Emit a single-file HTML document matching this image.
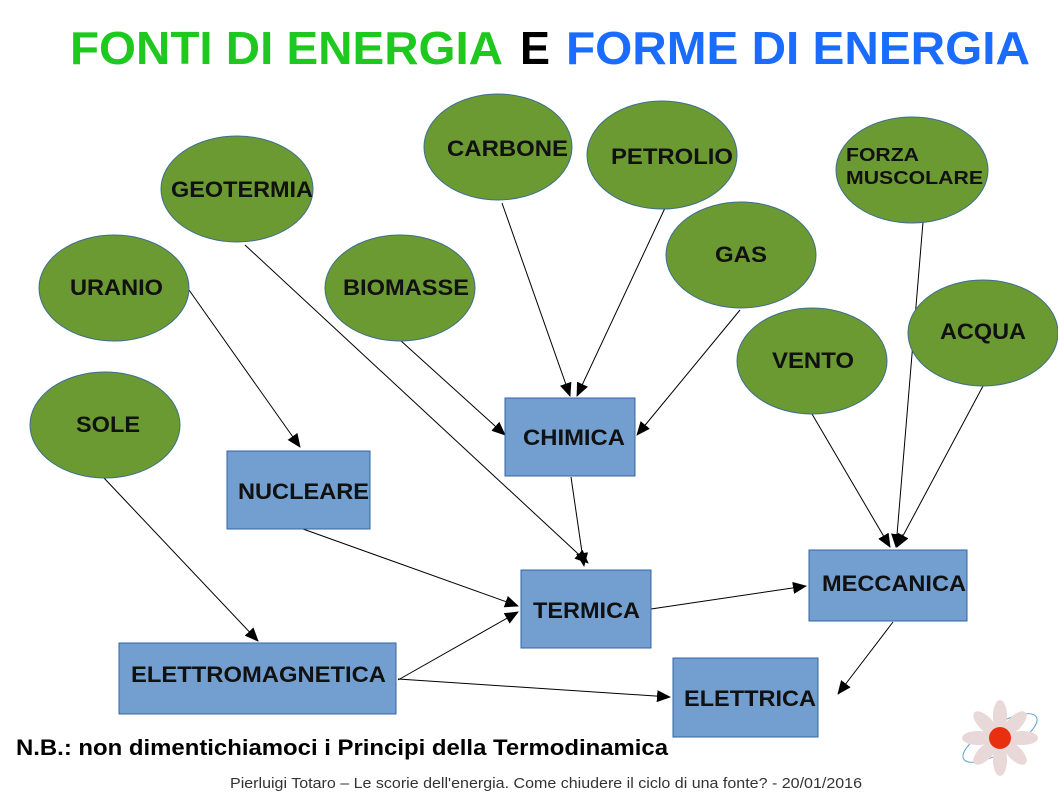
<!DOCTYPE html>
<html><head><meta charset="utf-8"><style>
body{margin:0;background:#fff}
svg{display:block}
text{font-family:"Liberation Sans",sans-serif;font-weight:bold}
</style></head><body>
<svg width="1058" height="794" viewBox="0 0 1058 794" xmlns="http://www.w3.org/2000/svg">
<defs><marker id="a" markerWidth="14" markerHeight="12" refX="13" refY="6" orient="auto" markerUnits="userSpaceOnUse"><path d="M0,0 L14,6 L0,12 z" fill="#000"/></marker></defs>
<g font-size="46">
<text x="70" y="64" fill="#1ec81e" textLength="433" lengthAdjust="spacingAndGlyphs">FONTI DI ENERGIA</text>
<text x="520" y="64" fill="#000" textLength="30" lengthAdjust="spacingAndGlyphs">E</text>
<text x="566" y="64" fill="#1a6cff" textLength="464" lengthAdjust="spacingAndGlyphs">FORME DI ENERGIA</text>
</g>
<g stroke="#000" stroke-width="1" marker-end="url(#a)">
<line x1="189" y1="290" x2="300" y2="447"/>
<line x1="245" y1="245" x2="588" y2="563"/>
<line x1="400" y1="340" x2="505" y2="435"/>
<line x1="502" y1="203" x2="570" y2="396"/>
<line x1="665" y1="208" x2="577" y2="396"/>
<line x1="740" y1="310" x2="637" y2="435"/>
<line x1="571" y1="477" x2="584" y2="566"/>
<line x1="303" y1="529" x2="518" y2="606"/>
<line x1="104" y1="478" x2="258" y2="641"/>
<line x1="398" y1="680" x2="518" y2="612"/>
<line x1="398" y1="679" x2="670" y2="697"/>
<line x1="651" y1="609" x2="806" y2="586"/>
<line x1="812" y1="414" x2="890" y2="547"/>
<line x1="923" y1="222" x2="896" y2="547"/>
<line x1="983" y1="386" x2="897" y2="547"/>
<line x1="893" y1="622" x2="838" y2="694"/>
</g>
<g fill="#6b9a33" stroke="#3c6e8f" stroke-width="1">
<ellipse cx="498" cy="147" rx="74" ry="53"/>
<ellipse cx="662" cy="155" rx="75" ry="54"/>
<ellipse cx="237" cy="189" rx="76" ry="53"/>
<ellipse cx="912" cy="170" rx="76" ry="53"/>
<ellipse cx="741" cy="255" rx="75" ry="53"/>
<ellipse cx="114" cy="288" rx="75" ry="53"/>
<ellipse cx="400" cy="288" rx="75" ry="53"/>
<ellipse cx="983" cy="333" rx="75" ry="53"/>
<ellipse cx="812" cy="361" rx="75" ry="53"/>
<ellipse cx="105" cy="425" rx="75" ry="53"/>
</g>
<g fill="#729fcf" stroke="#3465a4" stroke-width="1">
<rect x="505" y="398" width="130" height="78"/>
<rect x="227" y="451" width="143" height="78"/>
<rect x="521" y="570" width="130" height="78"/>
<rect x="809" y="550" width="158" height="71"/>
<rect x="119" y="643" width="277" height="71"/>
<rect x="673" y="658" width="145" height="79"/>
</g>
<g font-size="22" fill="#111" lengthAdjust="spacingAndGlyphs">
<text x="447" y="156" textLength="121" lengthAdjust="spacingAndGlyphs">CARBONE</text>
<text x="611" y="164" textLength="122" lengthAdjust="spacingAndGlyphs">PETROLIO</text>
<text x="171" y="197" textLength="142" lengthAdjust="spacingAndGlyphs">GEOTERMIA</text>
<text x="715" y="262" textLength="52" lengthAdjust="spacingAndGlyphs">GAS</text>
<text x="70" y="295" textLength="93" lengthAdjust="spacingAndGlyphs">URANIO</text>
<text x="343" y="295" textLength="126" lengthAdjust="spacingAndGlyphs">BIOMASSE</text>
<text x="940" y="339" textLength="86" lengthAdjust="spacingAndGlyphs">ACQUA</text>
<text x="772" y="368" textLength="82" lengthAdjust="spacingAndGlyphs">VENTO</text>
<text x="76" y="432" textLength="64" lengthAdjust="spacingAndGlyphs">SOLE</text>
<text x="523" y="445" textLength="102" lengthAdjust="spacingAndGlyphs">CHIMICA</text>
<text x="238" y="499" textLength="131" lengthAdjust="spacingAndGlyphs">NUCLEARE</text>
<text x="533" y="618" textLength="107" lengthAdjust="spacingAndGlyphs">TERMICA</text>
<text x="822" y="591" textLength="144" lengthAdjust="spacingAndGlyphs">MECCANICA</text>
<text x="131" y="682" textLength="255" lengthAdjust="spacingAndGlyphs">ELETTROMAGNETICA</text>
<text x="684" y="706" textLength="132" lengthAdjust="spacingAndGlyphs">ELETTRICA</text>
</g>
<g font-size="18" fill="#111">
<text x="846" y="161" textLength="73" lengthAdjust="spacingAndGlyphs">FORZA</text>
<text x="846" y="184" textLength="137" lengthAdjust="spacingAndGlyphs">MUSCOLARE</text>
</g>
<text x="16" y="755" font-size="22" fill="#000" textLength="652" lengthAdjust="spacingAndGlyphs">N.B.: non dimentichiamoci i Principi della Termodinamica</text>
<text x="230" y="788" font-size="15" fill="#333" style="font-weight:normal" textLength="632" lengthAdjust="spacingAndGlyphs">Pierluigi Totaro – Le scorie dell'energia. Come chiudere il ciclo di una fonte? - 20/01/2016</text>
<g transform="translate(1000,738)">
<ellipse cx="0" cy="0" rx="42" ry="14" fill="none" stroke="#5aa0d0" transform="rotate(-30)"/>
<g fill="#e8d8d8">
<ellipse cx="0" cy="-22" rx="7" ry="16"/><ellipse cx="0" cy="22" rx="7" ry="16"/>
<ellipse cx="-22" cy="0" rx="16" ry="7"/><ellipse cx="22" cy="0" rx="16" ry="7"/>
<ellipse cx="-15" cy="-15" rx="7" ry="15" transform="rotate(-45 -15 -15)"/><ellipse cx="15" cy="15" rx="7" ry="15" transform="rotate(-45 15 15)"/>
<ellipse cx="15" cy="-15" rx="7" ry="15" transform="rotate(45 15 -15)"/><ellipse cx="-15" cy="15" rx="7" ry="15" transform="rotate(45 -15 15)"/>
</g>
<circle cx="0" cy="0" r="11" fill="#e83010"/>
</g>
</svg>
</body></html>
